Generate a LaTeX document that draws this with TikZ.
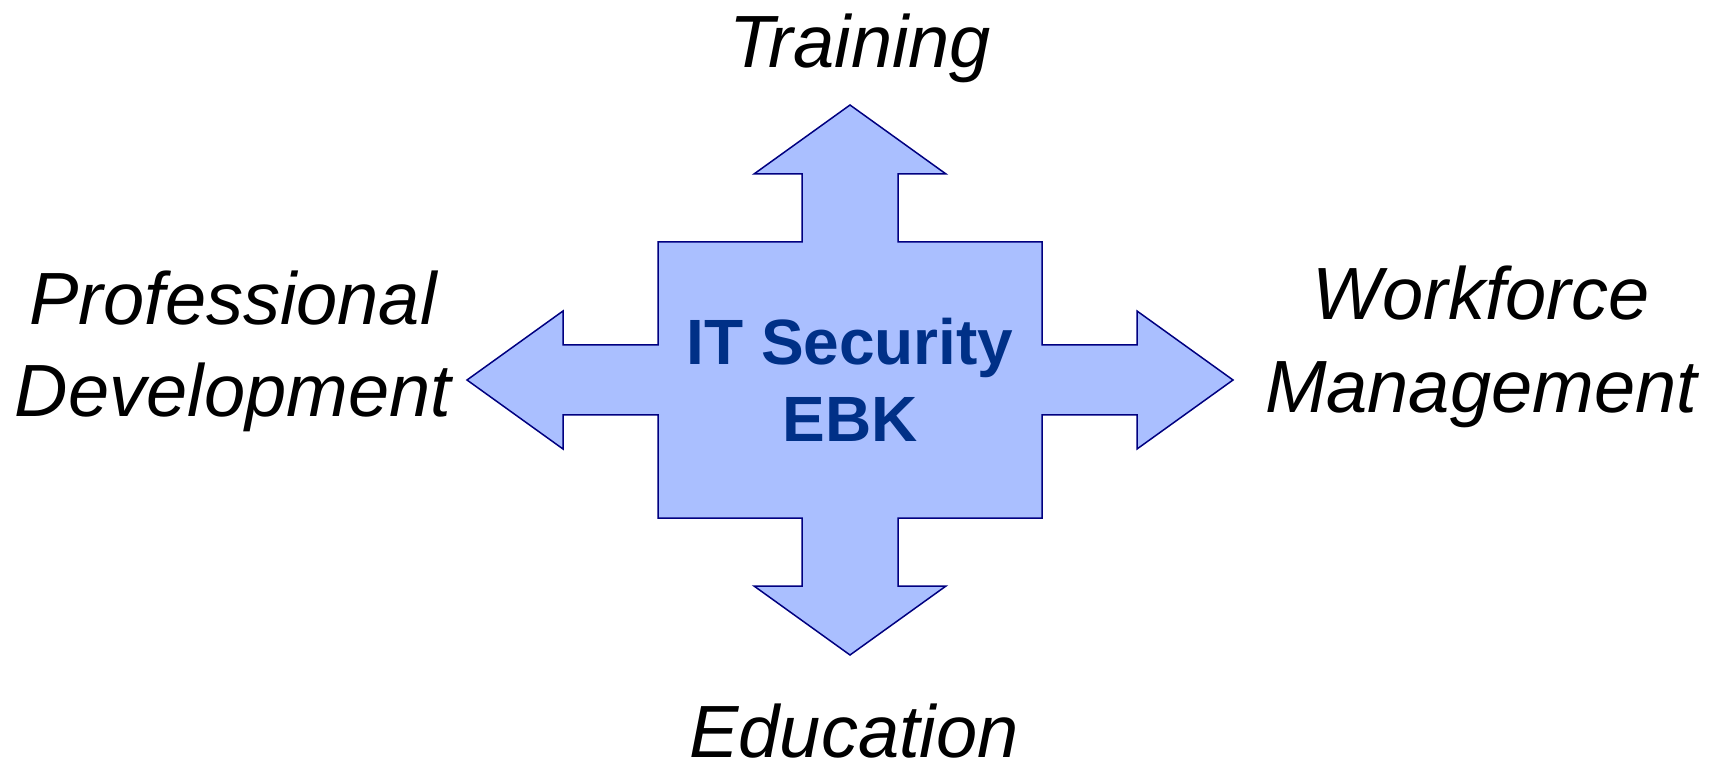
\documentclass[tikz,border=0pt]{standalone}
\usepackage{fontspec}
\setmainfont{Liberation Sans}
\usepackage{tikz}

\definecolor{ebkfill}{RGB}{170,191,255}
\definecolor{ebkline}{RGB}{0,0,128}
\definecolor{ebktext}{RGB}{0,48,135}

\begin{document}
\begin{tikzpicture}[x=0.5pt,y=-0.5pt,
    area/.style={font=\itshape\fontsize{37}{46.5}\selectfont,align=center,anchor=base,inner sep=0pt},
    core/.style={font=\bfseries\fontsize{32}{38.5}\selectfont,text=ebktext,align=center,anchor=base,inner sep=0pt}]
  \useasboundingbox (0,0) rectangle (1724,764);
  \coordinate (c) at (850,380);
  % the four-way arrow
  \draw[fill=ebkfill,draw=ebkline,line width=0.75pt,line join=miter,shift={(c)}]
    (0,-275) -- (96,-206) -- (48,-206) -- (48,-138) -- (192,-138) -- (192,-35)
    -- (287,-35) -- (287,-69) -- (383,0) -- (287,69) -- (287,35) -- (192,35)
    -- (192,138) -- (48,138) -- (48,206) -- (96,206) -- (0,275) -- (-96,206)
    -- (-48,206) -- (-48,138) -- (-192,138) -- (-192,35) -- (-287,35) -- (-287,69)
    -- (-383,0) -- (-287,-69) -- (-287,-35) -- (-192,-35) -- (-192,-138) -- (-48,-138)
    -- (-48,-206) -- (-96,-206) -- cycle;
  \node[core] (ebk) at (850,442) {IT Security\\EBK};
  \node[area] (training) at (860,68) {Training};
  \node[area,text depth=0pt] (education) at (854,757) {Education};
  \node[area] (profdev) at (233,417) {Professional\\Development};
  \node[area] (workforce) at (1481,413) {Workforce\\Management};
\end{tikzpicture}
\end{document}
